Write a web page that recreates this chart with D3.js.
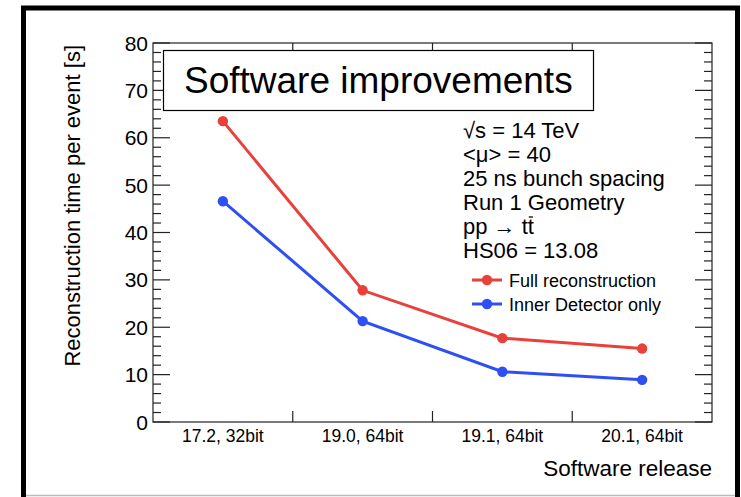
<!DOCTYPE html>
<html>
<head>
<meta charset="utf-8">
<script src="https://cdn.jsdelivr.net/npm/d3@7"></script>
<style>
  body { margin: 0; background: #fff; }
  svg { display: block; font-family: "Liberation Sans", Arial, Helvetica, sans-serif; }
</style>
</head>
<body>
<svg width="741" height="497"></svg>
<script>
// chart values
var releases = ["17.2, 32bit", "19.0, 64bit", "19.1, 64bit", "20.1, 64bit"];
var fullReco = [63.5, 27.8, 17.7, 15.5];
var innerDet = [46.6, 21.3, 10.6, 8.9];
var yTicks = [0, 10, 20, 30, 40, 50, 60, 70, 80];
// "|" marks the start of an overlined part (t-bar)
var infoLines = ["\u221As = 14 TeV", "<\u03BC> = 40", "25 ns bunch spacing",
                 "Run 1 Geometry", "pp \u2192 t|t", "HS06 = 13.08"];
var seriesNames = ["Full reconstruction", "Inner Detector only"];

var red = "#e8403a", blue = "#2e4ff4";

var svg = d3.select("svg");

// outer frame (thick black left/top/right, thin grey bottom)
svg.append("path")
    .attr("d", "M23.5,497 V8 H737.5 V497")
    .attr("fill", "none").attr("stroke", "#000").attr("stroke-width", 5);
svg.append("line")
    .attr("x1", 26).attr("x2", 735).attr("y1", 495.5).attr("y2", 495.5)
    .attr("stroke", "#bbb").attr("stroke-width", 1.5);

var pLeft = 153, pRight = 712, pTop = 43, pBottom = 422;

var x = d3.scaleBand().domain(releases).range([pLeft, pRight]);
var y = d3.scaleLinear().domain([0, 80]).range([pBottom, pTop]);

var minor = d3.range(0, 81, 2).filter(function(v) { return v % 10 != 0; });

// frame of plot
svg.append("rect")
    .attr("x", pLeft).attr("y", pTop)
    .attr("width", pRight - pLeft).attr("height", pBottom - pTop)
    .attr("fill", "none").attr("stroke", "#222").attr("stroke-width", 1.2);

// left axis ticks
svg.append("g").selectAll("line").data(yTicks).enter().append("line")
    .attr("x1", pLeft).attr("x2", pLeft + 17)
    .attr("y1", function(d) { return y(d); }).attr("y2", function(d) { return y(d); })
    .attr("stroke", "#222").attr("stroke-width", 1.2);
svg.append("g").selectAll("line").data(minor).enter().append("line")
    .attr("x1", pLeft).attr("x2", pLeft + 8)
    .attr("y1", function(d) { return y(d); }).attr("y2", function(d) { return y(d); })
    .attr("stroke", "#222").attr("stroke-width", 1.2);
// right axis ticks
svg.append("g").selectAll("line").data(yTicks).enter().append("line")
    .attr("x1", pRight).attr("x2", pRight - 17)
    .attr("y1", function(d) { return y(d); }).attr("y2", function(d) { return y(d); })
    .attr("stroke", "#222").attr("stroke-width", 1.2);
svg.append("g").selectAll("line").data(minor).enter().append("line")
    .attr("x1", pRight).attr("x2", pRight - 8)
    .attr("y1", function(d) { return y(d); }).attr("y2", function(d) { return y(d); })
    .attr("stroke", "#222").attr("stroke-width", 1.2);

// y tick labels
svg.append("g").selectAll("text").data(yTicks).enter().append("text")
    .attr("x", pLeft - 5).attr("y", function(d) { return y(d) + 7.5; })
    .attr("text-anchor", "end").style("font-size", "21px")
    .text(function(d) { return d; });

// x ticks at band boundaries, top and bottom
var bounds = releases.slice(1).map(function(d) { return x(d); });
svg.append("g").selectAll("line").data(bounds).enter().append("line")
    .attr("x1", function(d) { return d; }).attr("x2", function(d) { return d; })
    .attr("y1", pBottom).attr("y2", pBottom - 11)
    .attr("stroke", "#222").attr("stroke-width", 1.2);
svg.append("g").selectAll("line").data(bounds).enter().append("line")
    .attr("x1", function(d) { return d; }).attr("x2", function(d) { return d; })
    .attr("y1", pTop).attr("y2", pTop + 11)
    .attr("stroke", "#222").attr("stroke-width", 1.2);

svg.append("g").selectAll("text").data(releases).enter().append("text")
    .attr("x", function(d) { return x(d) + x.bandwidth() / 2; })
    .attr("y", 442)
    .attr("text-anchor", "middle").style("font-size", "17.5px")
    .text(function(d) { return d; });

// axis titles
svg.append("text")
    .attr("x", pRight).attr("y", 476)
    .attr("text-anchor", "end").style("font-size", "22.5px")
    .text("Software release");
svg.append("text")
    .attr("transform", "translate(80,45) rotate(-90)")
    .attr("text-anchor", "end").style("font-size", "22px")
    .text("Reconstruction time per event [s]");

// title box
svg.append("rect")
    .attr("x", 163.5).attr("y", 50.5).attr("width", 430).attr("height", 60)
    .attr("fill", "#fff").attr("stroke", "#000").attr("stroke-width", 1.2);
svg.append("text")
    .attr("x", 184).attr("y", 93)
    .style("font-size", "37px")
    .text("Software improvements");

// info text, with a drawn bar over the part after "|"
var info = svg.append("g");
infoLines.forEach(function(d, i) {
    var by = 138 + i * 24;
    var parts = d.split("|");
    var t = info.append("text")
        .attr("x", 463).attr("y", by)
        .style("font-size", "22px")
        .text(parts.join(""));
    if (parts.length > 1) {
        var node = t.node();
        var start = parts[0].length, n = parts[1].length;
        var x0 = node.getStartPositionOfChar(start).x;
        var x1 = node.getEndPositionOfChar(start + n - 1).x;
        info.append("line")
            .attr("x1", x0 + 1).attr("x2", x1 - 1)
            .attr("y1", by - 17).attr("y2", by - 17)
            .attr("stroke", "#000").attr("stroke-width", 1.3);
    }
});

// series
var series = [
    { name: seriesNames[0], values: fullReco, color: red },
    { name: seriesNames[1], values: innerDet, color: blue }
];
var line = d3.line()
    .x(function(d, i) { return x(releases[i]) + x.bandwidth() / 2; })
    .y(function(d) { return y(d); });

series.forEach(function(s) {
    svg.append("path")
        .attr("d", line(s.values))
        .attr("fill", "none").attr("stroke", s.color).attr("stroke-width", 3);
    svg.append("g").selectAll("circle").data(s.values).enter().append("circle")
        .attr("cx", function(d, i) { return x(releases[i]) + x.bandwidth() / 2; })
        .attr("cy", function(d) { return y(d); })
        .attr("r", 5.2).attr("fill", s.color);
});

// legend
series.forEach(function(s, i) {
    var ly = 280 + i * 24;
    svg.append("line")
        .attr("x1", 472).attr("x2", 502).attr("y1", ly).attr("y2", ly)
        .attr("stroke", s.color).attr("stroke-width", 3);
    svg.append("circle")
        .attr("cx", 487).attr("cy", ly).attr("r", 5.2).attr("fill", s.color);
    svg.append("text")
        .attr("x", 509).attr("y", ly + 6.5)
        .style("font-size", "18px")
        .text(s.name);
});
</script>
</body>
</html>
